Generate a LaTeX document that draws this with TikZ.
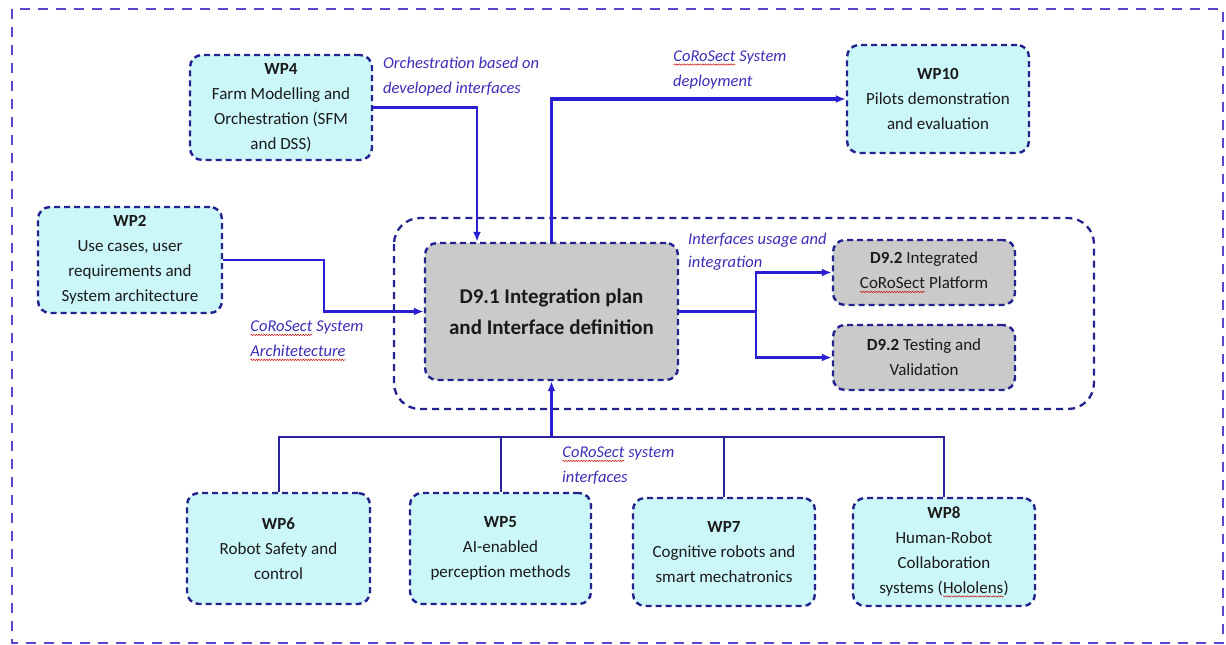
\documentclass[tikz,border=0pt]{standalone}
\usepackage{fontspec}
\setmainfont{Carlito}
\usetikzlibrary{arrows.meta,decorations.pathmorphing}

\definecolor{wpfill}{HTML}{CCF7F9}
\definecolor{delfill}{HTML}{CACACA}
\definecolor{boxedge}{HTML}{23238F}
\definecolor{frameedge}{HTML}{5547D0}
\definecolor{linkblue}{HTML}{2A1FD2}
\definecolor{busblue}{HTML}{28239A}
\definecolor{notecol}{HTML}{3A2DB8}
\definecolor{ink}{HTML}{1A1A1A}

% red wavy spell-check mark under a word
\newcommand{\spellmark}[1]{\tikz[baseline=(w.base)]{%
  \node[draw=none, fill=none, minimum width=0pt, minimum height=0pt,
        inner sep=0pt, outer sep=0pt, sharp corners, solid] (w) {#1};
  \draw[red!80!black, solid, sharp corners, line width=0.45pt, decorate,
        decoration={snake,amplitude=0.7pt,segment length=2.6pt}]
    ([yshift=-3pt]w.base west) -- ([yshift=-3pt]w.base east);}}

\tikzset{
  wpbox/.style={draw=boxedge, fill=wpfill, line width=2.4pt,
    dash pattern=on 6pt off 4pt, rounded corners=12pt,
    align=center, text=ink, inner sep=2pt,
    font=\fontsize{17}{25}\selectfont},
  delbox/.style={wpbox, fill=delfill},
  conn/.style={draw=linkblue, line width=2.2pt,
    -{Latex[length=10pt,width=8pt]}},
  busline/.style={draw=busblue, line width=2pt},
  note/.style={text=notecol, align=left, inner sep=0pt,
    font=\fontsize{16.5}{25}\selectfont\itshape},
}

\begin{document}
\begin{tikzpicture}[x=1pt,y=-1pt]
\useasboundingbox (0,0) rectangle (1226,645);

% outer frame
\draw[frameedge, line width=2.5pt, dash pattern=on 10pt off 8pt]
  (12,9) rectangle (1223,643);

% group around the deliverables
\draw[boxedge, line width=2.3pt, dash pattern=on 7pt off 5pt,
      rounded corners=26pt] (394,218) rectangle (1094,409);

% work packages
\node[wpbox, minimum width=182pt, minimum height=105pt] (wp4) at (281,107.5)
  {\textbf{WP4}\\Farm Modelling and\\Orchestration (SFM\\and DSS)};
\node[wpbox, minimum width=182pt, minimum height=108pt] (wp10) at (938,99)
  {\textbf{WP10}\\Pilots demonstration\\and evaluation};
\node[wpbox, minimum width=184pt, minimum height=106pt] (wp2) at (130,260)
  {\textbf{WP2}\\Use cases, user\\requirements and\\System architecture};

\node[wpbox, minimum width=183pt, minimum height=111pt] (wp6) at (278.5,548.5)
  {\textbf{WP6}\\Robot Safety and\\control};
\node[wpbox, minimum width=181pt, minimum height=111pt] (wp5) at (500.5,548.5)
  {\textbf{WP5}\\AI-enabled\\perception methods};
\node[wpbox, minimum width=182pt, minimum height=108pt] (wp7) at (724,552)
  {\textbf{WP7}\\Cognitive robots and\\smart mechatronics};
\node[wpbox, minimum width=182pt, minimum height=108pt] (wp8) at (944,552)
  {\textbf{WP8}\\Human-Robot\\Collaboration\\systems (\spellmark{Hololens})};

% deliverables
\node[delbox, minimum width=253pt, minimum height=137pt,
      font=\fontsize{21}{31}\selectfont\bfseries] (d91) at (551.5,311.5)
  {D9.1 Integration plan\\and Interface definition};
\node[delbox, minimum width=182pt, minimum height=65pt] (d92a) at (924,272.5)
  {\textbf{D9.2} Integrated\\\spellmark{CoRoSect} Platform};
\node[delbox, minimum width=182pt, minimum height=65pt] (d92b) at (924,357.5)
  {\textbf{D9.2} Testing and\\Validation};

% connectors
\draw[conn] (wp4.east) -| ([xshift=-74.5pt]d91.north);
\draw[conn, line width=3.4pt] (d91.north) |- (wp10.west);
\draw[conn] (wp2.east) -- ++(101,0) |- (d91.west);
\draw[draw=linkblue, line width=2.2pt] (d91.east) -- ++(77,0) coordinate (split);
\draw[conn] (split) |- (d92a.west);
\draw[conn] (split) |- (d92b.west);

% interface bus from the technical work packages
\coordinate (bus) at (551.5,437);
\draw[busline] (wp6.north) |- (bus) -| (wp8.north);
\draw[busline] (wp5.north) -- (wp5.north |- bus);
\draw[busline] (wp7.north) -- (wp7.north |- bus);
\draw[conn] (bus) -- (d91.south);

% annotations
\node[note, anchor=west] (n1) at (383,77)
  {Orchestration based on\\developed interfaces};
\node[note, anchor=west] (n2) at (673,70)
  {\spellmark{CoRoSect} System\\deployment};
\node[note, anchor=west] (n3) at (250,341)
  {\spellmark{CoRoSect} System\\\spellmark{Architetecture}};
\node[note, anchor=west, font=\fontsize{16.5}{23}\selectfont\itshape] (n4) at (688,252)
  {Interfaces usage and\\integration};
\node[note, anchor=west] (n5) at (562,466)
  {\spellmark{CoRoSect} system\\interfaces};
\end{tikzpicture}
\end{document}
